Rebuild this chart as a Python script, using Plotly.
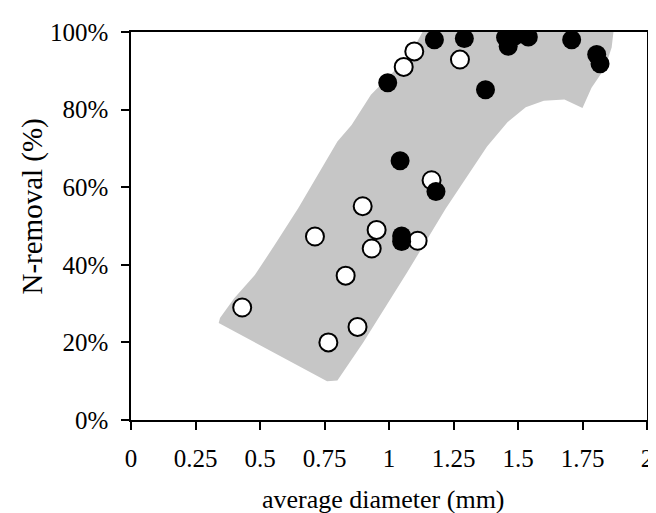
import plotly.graph_objects as go

# Open circles (series 1)
open_x = [0.431, 0.765, 0.878, 0.832, 0.713, 0.898, 0.952, 0.933, 1.111, 1.165, 1.057, 1.098, 1.275]
open_y = [29.0, 20.0, 24.0, 37.2, 47.3, 55.1, 49.0, 44.2, 46.2, 61.8, 91.0, 95.0, 92.9]

# Filled circles (series 2)
filled_x = [0.995, 1.176, 1.292, 1.374, 1.043, 1.182, 1.049, 1.049, 1.452, 1.486, 1.462, 1.540, 1.708, 1.805, 1.818]
filled_y = [86.9, 98.0, 98.3, 85.1, 66.8, 58.9, 47.4, 46.0, 98.6, 98.9, 96.3, 98.7, 98.0, 94.2, 91.8]

# Shaded band outline
band_x = [0.34, 0.55, 0.76, 0.80, 0.90, 1.07, 1.22, 1.38, 1.46, 1.53, 1.60, 1.68, 1.75, 1.785, 1.837, 1.863, 1.87,
          1.13, 1.08, 0.93, 0.855, 0.80, 0.648, 0.558, 0.48, 0.40, 0.345]
band_y = [25.0, 17.5, 10.0, 10.2, 20.0, 38.0, 54.5, 70.5, 76.8, 80.6, 82.3, 82.6, 80.4, 85.6, 90.7, 96.0, 100.0,
          100.0, 94.0, 83.8, 76.0, 71.8, 54.6, 45.2, 37.4, 31.4, 26.3]

x_ticks = [0, 0.25, 0.5, 0.75, 1, 1.25, 1.5, 1.75, 2]
x_labels = ["0", "0.25", "0.5", "0.75", "1", "1.25", "1.5", "1.75", "2"]
y_ticks = [0, 20, 40, 60, 80, 100]
y_labels = ["0%", "20%", "40%", "60%", "80%", "100%"]

FONT = "Liberation Serif, Times New Roman, serif"

fig = go.Figure()
fig.add_trace(go.Scatter(x=band_x, y=band_y, mode="lines", fill="toself",
                         fillcolor="#c6c6c6", line=dict(width=0, color="#c6c6c6"),
                         hoverinfo="skip", showlegend=False))
fig.add_trace(go.Scatter(x=open_x, y=open_y, mode="markers", showlegend=False,
                         marker=dict(size=18, color="white", line=dict(color="black", width=2))))
fig.add_trace(go.Scatter(x=filled_x, y=filled_y, mode="markers", showlegend=False,
                         marker=dict(size=19, color="black", line=dict(color="black", width=0))))

axis_common = dict(showline=True, linecolor="black", linewidth=1.5, mirror=True,
                   ticks="outside", ticklen=8, tickwidth=1.5, tickcolor="black",
                   showgrid=False, zeroline=False, automargin=False,
                   tickfont=dict(family=FONT, size=25, color="black"))

fig.update_xaxes(range=[0, 2], tickvals=x_ticks, ticktext=x_labels,
                 ticklabelstandoff=7, **axis_common)
fig.update_yaxes(range=[0, 100], tickvals=y_ticks, ticktext=y_labels,
                 ticklabelstandoff=8, **axis_common)

fig.update_layout(
    width=656, height=513,
    margin=dict(l=123, r=17, t=24, b=101),
    plot_bgcolor="white", paper_bgcolor="white",
    annotations=[
        dict(text="average diameter (mm)", xref="paper", yref="paper",
             x=0.49, y=-0.206, xanchor="center", yanchor="middle", showarrow=False,
             font=dict(family=FONT, size=26, color="black")),
        dict(text="N-removal (%)", xref="paper", yref="paper",
             x=-0.19, y=0.55, xanchor="center", yanchor="middle", showarrow=False,
             textangle=-90, font=dict(family=FONT, size=29, color="black")),
    ],
)

fig.write_html("out.html")
